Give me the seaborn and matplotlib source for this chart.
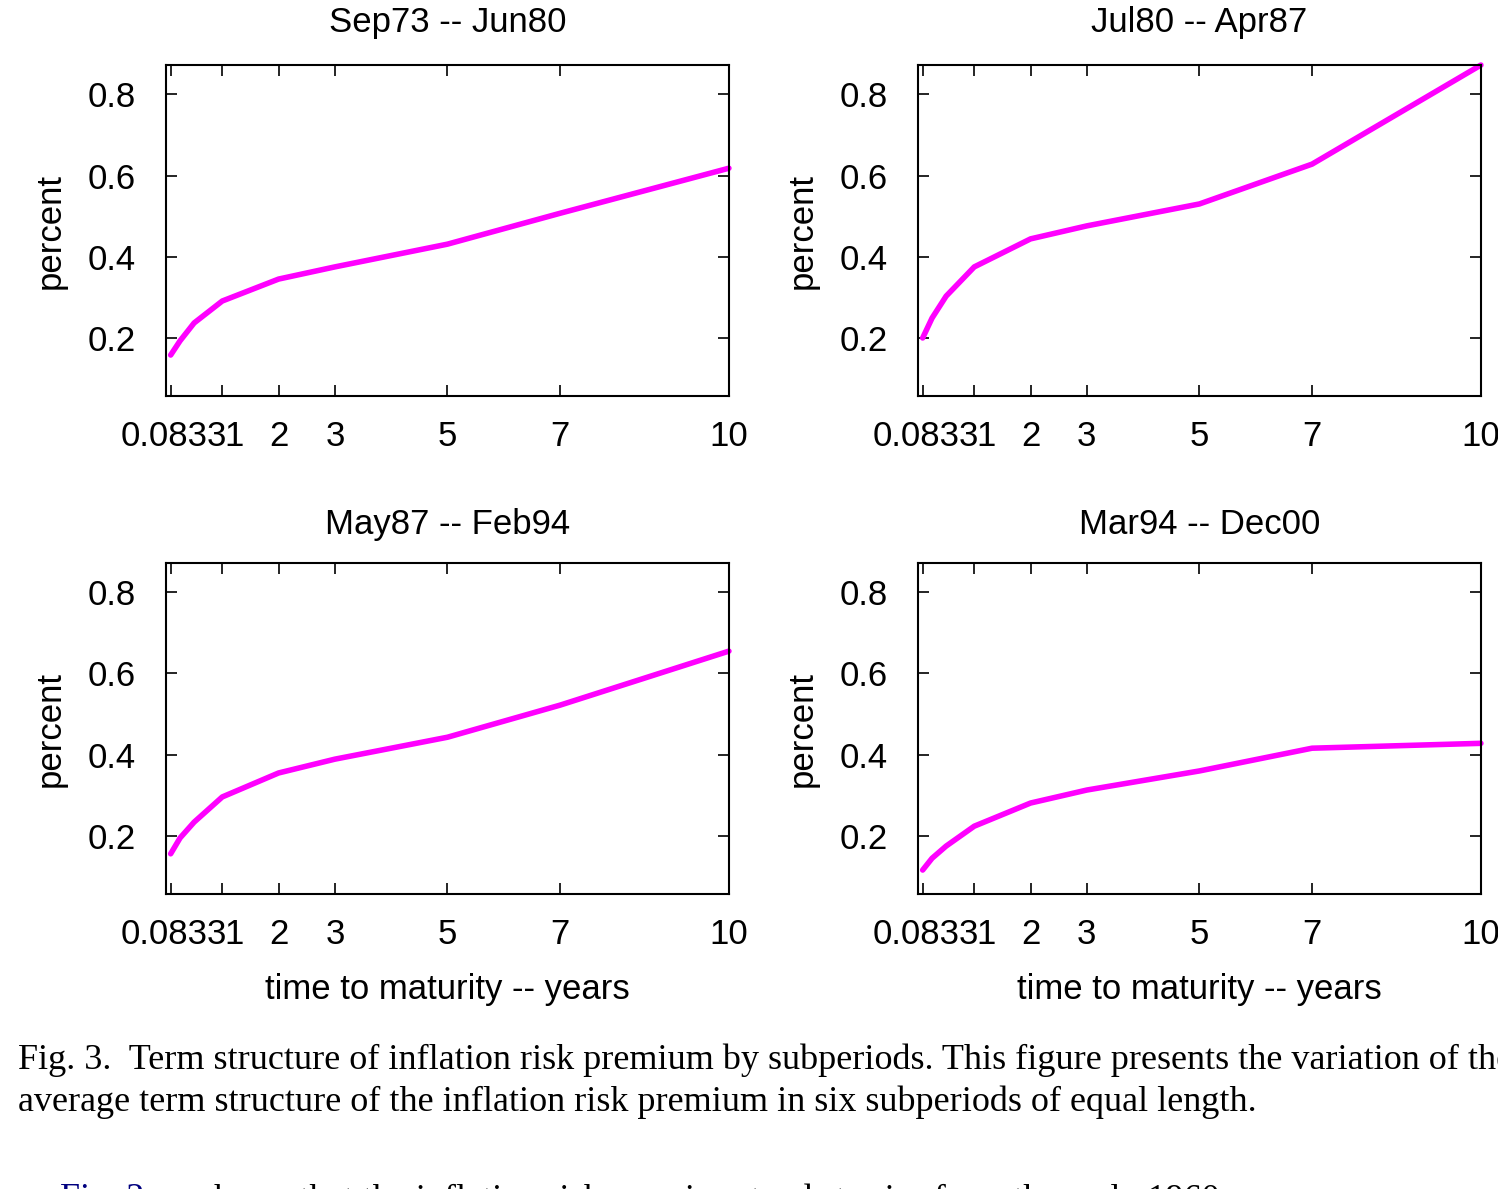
import matplotlib
matplotlib.use("Agg")
import matplotlib.pyplot as plt
import matplotlib.transforms as mtransforms
import numpy as np
import pandas as pd
import seaborn as sns

sns.set_style("ticks", {'axes.edgecolor': 'black', 'text.color': 'black',
                        'axes.labelcolor': 'black', 'xtick.color': 'black',
                        'ytick.color': 'black'})
plt.rcParams['font.family'] = ['Liberation Sans', 'DejaVu Sans']

# maturities in years
maturity = [1 / 12, 0.25, 0.5, 1, 2, 3, 5, 7, 10]
tick_pos = [1 / 12, 1, 2, 3, 5, 7, 10]
tick_lab = ['0.0833', '1', '2', '3', '5', '7', '10']

# average inflation risk premium (percent) per subperiod
sep73_jun80 = [0.158, 0.193, 0.237, 0.291, 0.345, 0.375, 0.431, 0.507, 0.618]
jul80_apr87 = [0.200, 0.249, 0.303, 0.375, 0.444, 0.476, 0.530, 0.628, 0.872]
may87_feb94 = [0.156, 0.195, 0.234, 0.296, 0.355, 0.389, 0.443, 0.522, 0.655]
mar94_dec00 = [0.116, 0.145, 0.175, 0.224, 0.281, 0.313, 0.360, 0.416, 0.428]

titles = ['Sep73 -- Jun80', 'Jul80 -- Apr87', 'May87 -- Feb94', 'Mar94 -- Dec00']
series = [sep73_jun80, jul80_apr87, may87_feb94, mar94_dec00]

fig = plt.figure(figsize=(14.98, 11.89), dpi=100)
fs = 25
lefts = [0.1108, 0.6128, 0.1108, 0.6128]
bottoms = [0.6669, 0.6669, 0.2481, 0.2481]

for i in range(4):
    ax = fig.add_axes([lefts[i], bottoms[i], 0.3758, 0.2784])
    df = pd.DataFrame({'maturity': maturity, 'premium': series[i]})
    sns.lineplot(data=df, x='maturity', y='premium', ax=ax, color='#ff00ff',
                 linewidth=4, clip_on=False)
    ax.set_xlim(0, 10)
    ax.set_ylim(0.057, 0.872)
    ax.set_xticks(tick_pos)
    ax.set_xticklabels(tick_lab)
    ax.set_yticks([0.2, 0.4, 0.6, 0.8])
    ax.set_yticklabels(['0.2', '0.4', '0.6', '0.8'])
    ax.tick_params(direction='in', top=True, right=True, labelsize=fs,
                   length=8, width=1.2, colors='black')
    ax.tick_params(axis='x', pad=17)
    ax.tick_params(axis='y', pad=22)
    # the "1" label sits just after "0.0833", slightly right of its tick
    lbls = ax.get_xticklabels()
    lbls[0].set_transform(lbls[0].get_transform() +
                          mtransforms.ScaledTranslation(3 / 100, 0, fig.dpi_scale_trans))
    lbls[1].set_transform(lbls[1].get_transform() +
                          mtransforms.ScaledTranslation(12 / 100, 0, fig.dpi_scale_trans))
    for s in ax.spines.values():
        s.set_linewidth(1.5)
        s.set_color('black')
    ax.set_title(titles[i], fontsize=fs, pad=24 if i < 2 else 21)
    ax.set_ylabel('percent', fontsize=fs, labelpad=15)
    if i >= 2:
        ax.set_xlabel('time to maturity -- years', fontsize=fs, labelpad=16)
    else:
        ax.set_xlabel('')

cap = {'family': ['Liberation Serif', 'DejaVu Serif'], 'fontsize': 26}
fig.text(18 / 1498, 1 - 1060 / 1189,
         'Fig. 3.  Term structure of inflation risk premium by subperiods. '
         'This figure presents the variation of the',
         va='center', ha='left', color='black', **cap)
fig.text(18 / 1498, 1 - 1102 / 1189,
         'average term structure of the inflation risk premium in six '
         'subperiods of equal length.',
         va='center', ha='left', color='black', **cap)
fig.text(60 / 1498, 1 - 1200 / 1189, 'Fig. 2', color='#00007f',
         va='center', ha='left', **cap)
fig.text(200 / 1498, 1 - 1200 / 1189,
         'shows that the inflation risk premium tends to rise from the early 1960s',
         va='center', ha='left', color='black', **cap)

fig.savefig('out.png', dpi=100)
